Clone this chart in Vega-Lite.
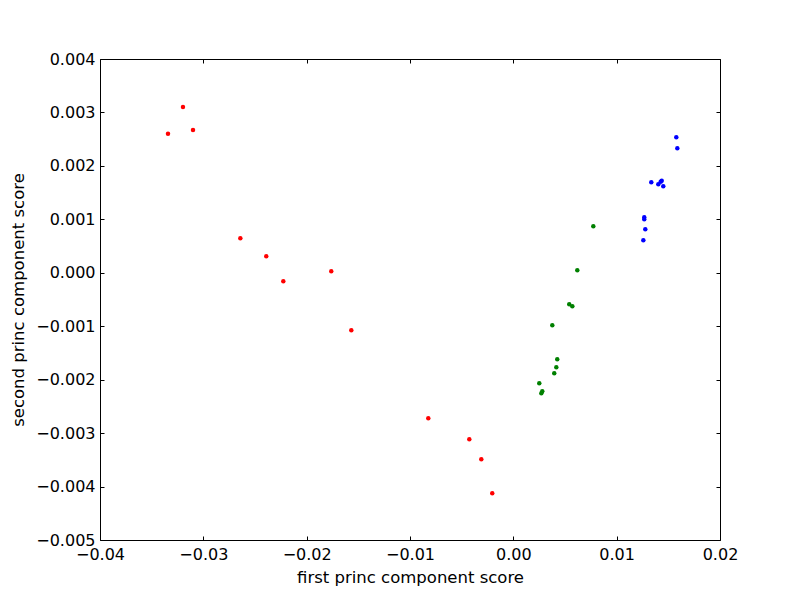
{
  "$schema": "https://vega.github.io/schema/vega-lite/v6.json",
  "autosize": "none",
  "width": 620,
  "height": 481,
  "padding": {"left": 100, "top": 59, "right": 80, "bottom": 60},
  "background": "white",
  "config": {
    "view": {"stroke": "black", "strokeWidth": 1},
    "font": "DejaVu Sans",
    "axis": {
      "grid": false,
      "domain": false,
      "labelFlush": false,
      "labelOverlap": false,
      "tickColor": "black",
      "tickSize": -4,
      "tickWidth": 1,
      "labelColor": "black",
      "titleColor": "black",
      "labelFont": "DejaVu Sans",
      "titleFont": "DejaVu Sans",
      "labelFontSize": 16,
      "titleFontSize": 16.5,
      "titleFontWeight": "normal"
    }
  },
  "data": {
    "values": [
      {"pc1": -0.03342, "pc2": 0.00260, "group": "a"},
      {"pc1": -0.03197, "pc2": 0.00310, "group": "a"},
      {"pc1": -0.03100, "pc2": 0.00267, "group": "a"},
      {"pc1": -0.02642, "pc2": 0.000645, "group": "a"},
      {"pc1": -0.02391, "pc2": 0.000309, "group": "a"},
      {"pc1": -0.02226, "pc2": -0.000159, "group": "a"},
      {"pc1": -0.01762, "pc2": 0.000028, "group": "a"},
      {"pc1": -0.01568, "pc2": -0.001076, "group": "a"},
      {"pc1": -0.00823, "pc2": -0.002723, "group": "a"},
      {"pc1": -0.00426, "pc2": -0.003115, "group": "a"},
      {"pc1": -0.00310, "pc2": -0.00349, "group": "a"},
      {"pc1": -0.00204, "pc2": -0.004126, "group": "a"},
      {"pc1": 0.00774, "pc2": 0.00087, "group": "b"},
      {"pc1": 0.00619, "pc2": 0.000047, "group": "b"},
      {"pc1": 0.00541, "pc2": -0.00059, "group": "b"},
      {"pc1": 0.00571, "pc2": -0.000627, "group": "b"},
      {"pc1": 0.00377, "pc2": -0.000982, "group": "b"},
      {"pc1": 0.00425, "pc2": -0.001619, "group": "b"},
      {"pc1": 0.00416, "pc2": -0.001768, "group": "b"},
      {"pc1": 0.00396, "pc2": -0.001881, "group": "b"},
      {"pc1": 0.00251, "pc2": -0.002068, "group": "b"},
      {"pc1": 0.00280, "pc2": -0.002217, "group": "b"},
      {"pc1": 0.00271, "pc2": -0.002255, "group": "b"},
      {"pc1": 0.01577, "pc2": 0.002535, "group": "c"},
      {"pc1": 0.01587, "pc2": 0.002329, "group": "c"},
      {"pc1": 0.01335, "pc2": 0.001693, "group": "c"},
      {"pc1": 0.01403, "pc2": 0.001656, "group": "c"},
      {"pc1": 0.01426, "pc2": 0.001704, "group": "c"},
      {"pc1": 0.01436, "pc2": 0.001723, "group": "c"},
      {"pc1": 0.01451, "pc2": 0.001618, "group": "c"},
      {"pc1": 0.01267, "pc2": 0.001038, "group": "c"},
      {"pc1": 0.01267, "pc2": 0.001001, "group": "c"},
      {"pc1": 0.01277, "pc2": 0.000814, "group": "c"},
      {"pc1": 0.01258, "pc2": 0.000608, "group": "c"}
    ]
  },
  "layer": [
    {
      "mark": {"type": "circle", "size": 20, "opacity": 1},
      "encoding": {
        "x": {
          "field": "pc1", "type": "quantitative",
          "scale": {"domain": [-0.04, 0.02], "nice": false, "zero": false},
          "axis": {
            "orient": "bottom",
            "values": [-0.04, -0.03, -0.02, -0.01, 0, 0.01, 0.02],
            "format": ".2f",
            "labelPadding": 10,
            "title": "first princ component score",
            "titlePadding": 7
          }
        },
        "y": {
          "field": "pc2", "type": "quantitative",
          "scale": {"domain": [-0.005, 0.004], "nice": false, "zero": false},
          "axis": {
            "orient": "left",
            "values": [-0.005, -0.004, -0.003, -0.002, -0.001, 0, 0.001, 0.002, 0.003, 0.004],
            "format": ".3f",
            "labelPadding": 9,
            "title": "second princ component score",
            "titlePadding": 9
          }
        },
        "color": {
          "field": "group", "type": "nominal",
          "scale": {"domain": ["a", "b", "c"], "range": ["#ff0000", "#008000", "#0000ff"]},
          "legend": null
        }
      }
    },
    {
      "mark": {"type": "circle", "size": 20, "opacity": 0},
      "encoding": {
        "x": {
          "field": "pc1", "type": "quantitative",
          "scale": {"domain": [-0.04, 0.02], "nice": false, "zero": false},
          "axis": {
            "orient": "top",
            "values": [-0.04, -0.03, -0.02, -0.01, 0, 0.01, 0.02],
            "labels": false,
            "title": null
          }
        },
        "y": {
          "field": "pc2", "type": "quantitative",
          "scale": {"domain": [-0.005, 0.004], "nice": false, "zero": false},
          "axis": {
            "orient": "right",
            "values": [-0.005, -0.004, -0.003, -0.002, -0.001, 0, 0.001, 0.002, 0.003, 0.004],
            "labels": false,
            "title": null
          }
        }
      }
    }
  ]
}
